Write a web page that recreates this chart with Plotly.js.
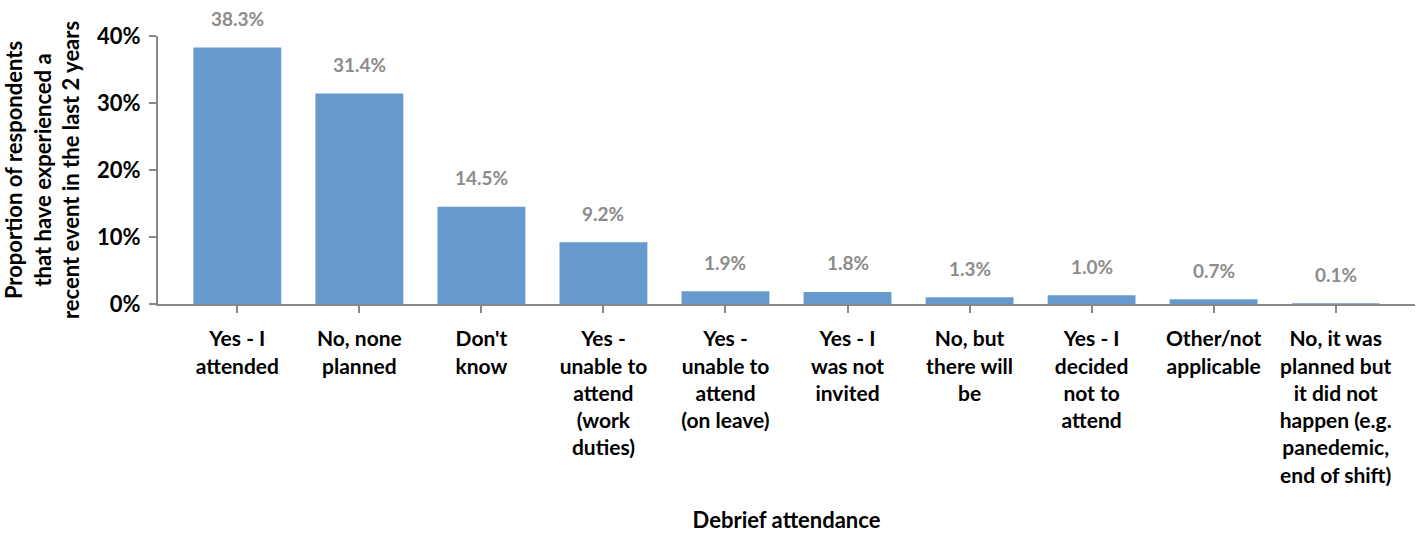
<!DOCTYPE html>
<html><head><meta charset="utf-8">
<script src="https://cdn.plot.ly/plotly-3.0.1.min.js"></script>
<style>html,body{margin:0;padding:0;background:#fff}#chart{width:1416px;height:533px}</style>
</head><body><div id="chart"></div>
<script>
const categories = [
  "Yes - I<br>attended",
  "No, none<br>planned",
  "Don't<br>know",
  "Yes -<br>unable to<br>attend<br>(work<br>duties)",
  "Yes -<br>unable to<br>attend<br>(on leave)",
  "Yes - I<br>was not<br>invited",
  "No, but<br>there will<br>be",
  "Yes - I<br>decided<br>not to<br>attend",
  "Other/not<br>applicable",
  "No, it was<br>planned but<br>it did not<br>happen (e.g.<br>panedemic,<br>end of shift)"
];
// bar heights as drawn (proportion)
const values = [0.383, 0.314, 0.145, 0.092, 0.019, 0.018, 0.010, 0.013, 0.007, 0.001];
// data labels as printed
const labels = ["38.3%", "31.4%", "14.5%", "9.2%", "1.9%", "1.8%", "1.3%", "1.0%", "0.7%", "0.1%"];
const yTicks = [0, 0.1, 0.2, 0.3, 0.4];
const yTickText = ["0%", "10%", "20%", "30%", "40%"];

const FONT = "Lato, 'Noto Sans', sans-serif";
const idx = categories.map((_, i) => i);

const trace = {
  type: "bar", x: idx, y: values,
  marker: {color: "#6699CC"}, width: 0.72, hoverinfo: "skip"
};

const annotations = idx.map(i => ({
  x: i, y: values[i], xref: "x", yref: "y",
  text: labels[i], showarrow: false, yanchor: "middle", yshift: 29,
  font: {family: FONT, size: 19, color: "#8c8c8c", weight: 700}
}));

const layout = {
  width: 1416, height: 533,
  margin: {l: 158, r: 1, t: 36, b: 229},
  paper_bgcolor: "#fff", plot_bgcolor: "#fff",
  showlegend: false,
  font: {family: FONT, color: "#000"},
  xaxis: {
    range: [-0.65, 9.65], tickmode: "array", tickvals: idx, ticktext: categories,
    showgrid: false, zeroline: false, showline: true, linecolor: "#888", linewidth: 2,
    ticks: "outside", ticklen: 7, tickcolor: "#888", tickwidth: 2,
    tickangle: 0, automargin: false, ticklabelstandoff: 8,
    tickfont: {family: FONT, size: 21, color: "#000", weight: 700},
    title: {text: "Debrief attendance", standoff: 36, font: {family: FONT, size: 22, color: "#000", weight: 700}}
  },
  yaxis: {
    range: [0, 0.4], tickmode: "array", tickvals: yTicks, ticktext: yTickText,
    showgrid: false, zeroline: false, showline: true, linecolor: "#888", linewidth: 2,
    ticks: "outside", ticklen: 7, tickcolor: "#888", tickwidth: 2, automargin: false,
    ticklabelstandoff: 4,
    tickfont: {family: FONT, size: 22, color: "#000", weight: 700},
    title: {text: "Proportion of respondents<br>that have experienced a<br>recent event in the last 2 years", standoff: 14,
            font: {family: FONT, size: 22, color: "#000", weight: 700}}
  },
  annotations: annotations
};

Plotly.newPlot("chart", [trace], layout, {displayModeBar: false, staticPlot: true});
</script></body></html>
